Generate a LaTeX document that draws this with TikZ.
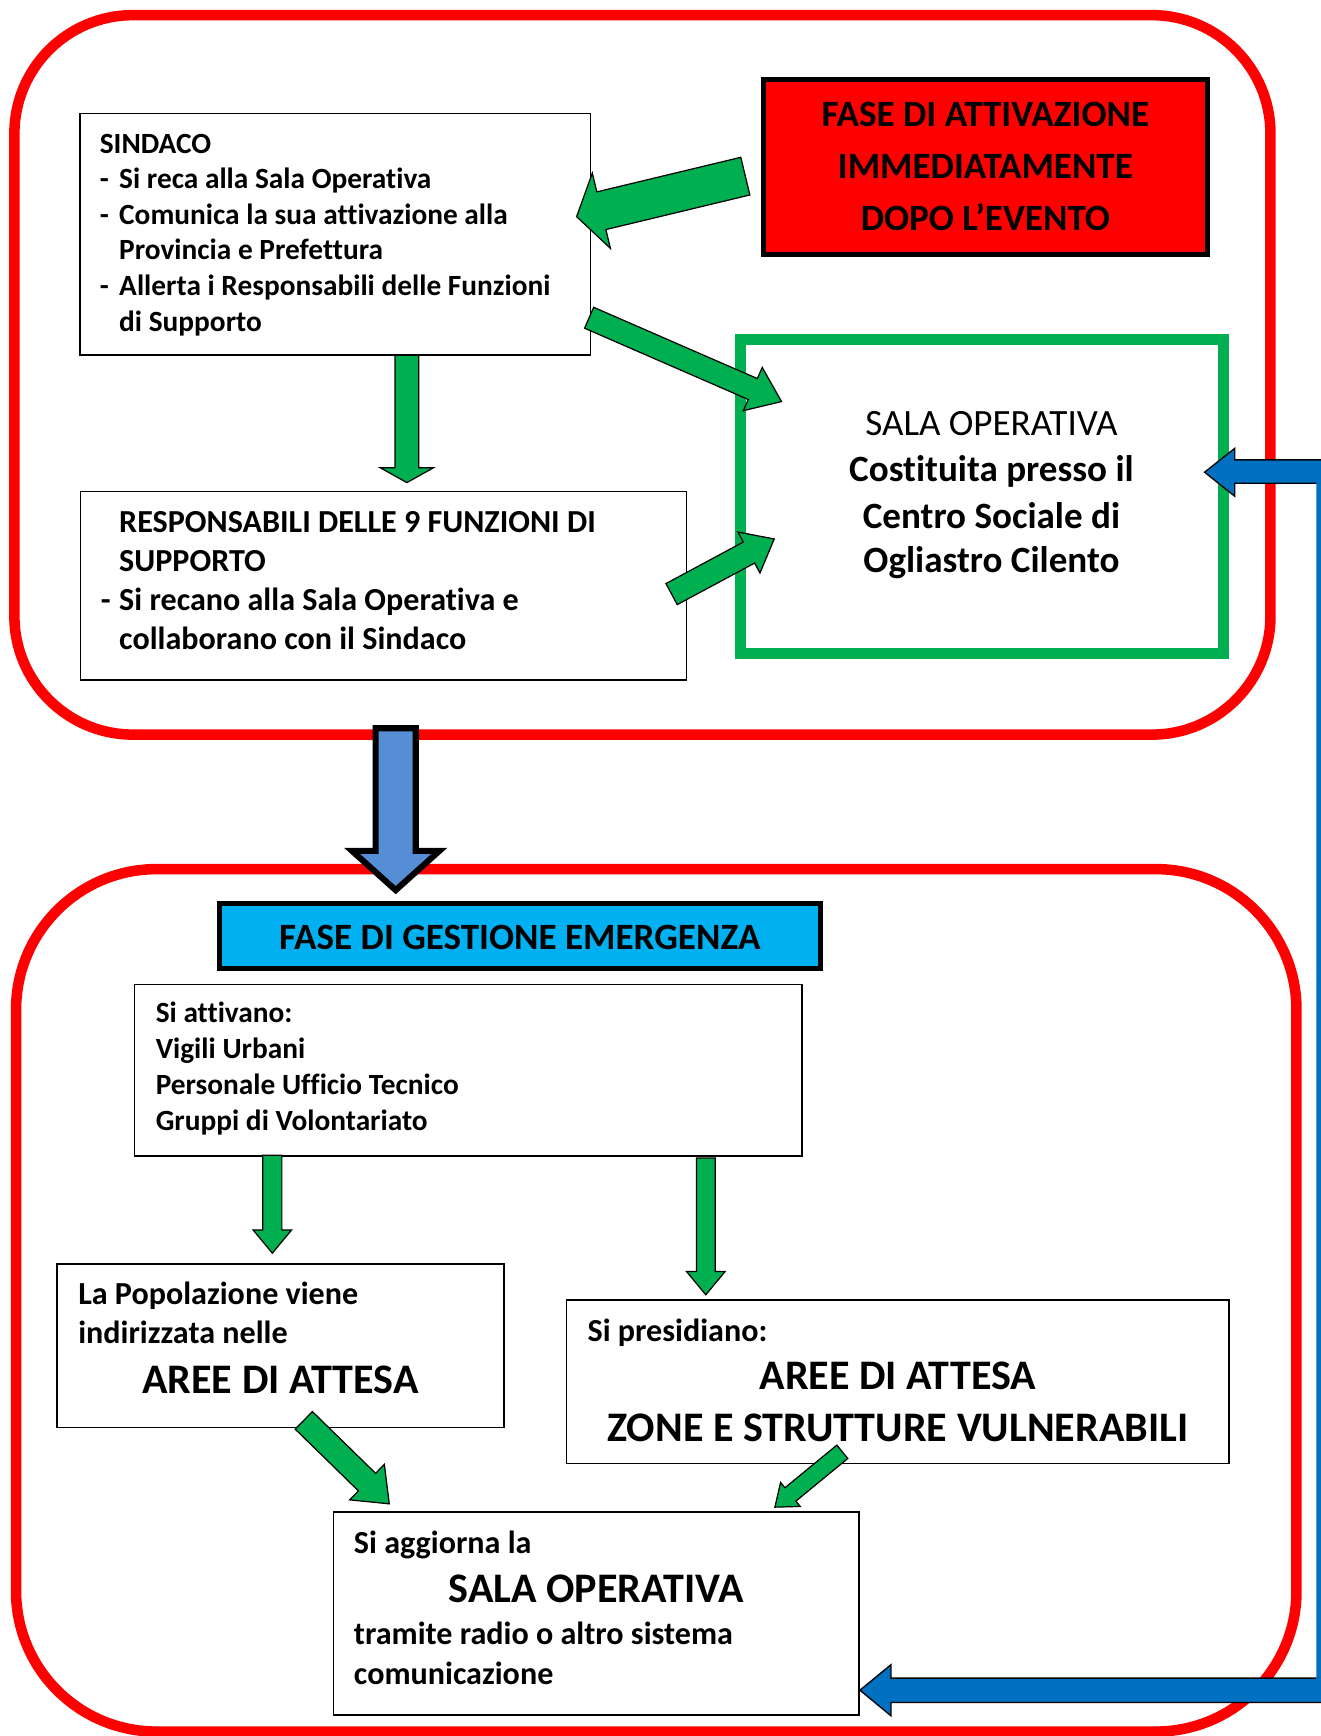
\documentclass[tikz,border=0pt]{standalone}
\usepackage{fontspec}
\setmainfont{Carlito}[Ligatures=CommonOff]
\usetikzlibrary{calc}
\definecolor{cred}{HTML}{FF0000}
\definecolor{cgreen}{HTML}{00B050}
\definecolor{ccyan}{HTML}{00B0F0}
\definecolor{cblue}{HTML}{0070C0}
\definecolor{cbluelight}{HTML}{558ED5}
% #1 options, #2 tail, #3 tip, #4 half shaft width, #5 half head width, #6 head length
\newcommand\blockarrow[6][]{%
  \coordinate (bahead) at ($(#3)!#6!(#2)$);
  \draw[garrow,#1] ($(#2)!#4!90:(#3)$) -- ($(bahead)!#4!90:(#3)$) -- ($(bahead)!#5!90:(#3)$) -- (#3)
    -- ($(bahead)!#5!-90:(#3)$) -- ($(bahead)!#4!-90:(#3)$) -- ($(#2)!#4!-90:(#3)$) -- cycle;}
\begin{document}
\begin{tikzpicture}[x=1pt,y=-1pt,
  frame/.style={draw=cred, line width=9.5pt, inner sep=0pt},
  box/.style={draw=black, line width=1.3pt, fill=white, inner sep=0pt},
  hbox/.style={draw=black, line width=4.5pt, inner sep=0pt},
  garrow/.style={fill=cgreen, draw=black, line width=1.1pt, line join=miter},
  sA/.style={inner sep=0pt, font=\fontsize{26.5}{30}\selectfont\bfseries},
  sB/.style={inner sep=0pt, font=\fontsize{29}{33}\selectfont\bfseries},
  sC/.style={inner sep=0pt, font=\fontsize{33.5}{38}\selectfont\bfseries},
  sCr/.style={inner sep=0pt, font=\fontsize{33.5}{38}\selectfont},
  sD/.style={inner sep=0pt, font=\fontsize{38}{44}\selectfont\bfseries},
]
\useasboundingbox (0,0) rectangle (1193,1568);
\clip (0,0) rectangle (1193,1568);

% phase frames
\node[frame, rounded corners=107pt, minimum width=1134.5pt, minimum height=649.8pt] (phase1) at (580.25,338.6) {};
\node[frame, rounded corners=127pt, minimum width=1156.5pt, minimum height=779pt] (phase2) at (592.75,1174.5) {};

% ---------- top phase ----------
\node[box, minimum width=461.3pt, minimum height=218.3pt] (sindaco) at (302.9,211.5) {};
\node[sA, anchor=base west] (sin1) at (90,138.5) {SINDACO};
\node[sA, anchor=base west] (sin2) at (90,170) {\makebox[17.5pt][l]{-}Si reca alla Sala Operativa};
\node[sA, anchor=base west] (sin3) at (90,202.4) {\makebox[17.5pt][l]{-}Comunica la sua attivazione alla};
\node[sA, anchor=base west] (sin4) at (107.5,234.8) {Provincia e Prefettura};
\node[sA, anchor=base west] (sin5) at (90,267.2) {\makebox[17.5pt][l]{-}Allerta i Responsabili delle Funzioni};
\node[sA, anchor=base west] (sin6) at (107.5,299.6) {di Supporto};

\node[hbox, fill=cred, minimum width=401.6pt, minimum height=158.8pt] (fase) at (890.2,150.8) {};
\node[sC, anchor=base] (fas1) at (890,114.1) {FASE DI ATTIVAZIONE};
\node[sC, anchor=base] (fas2) at (890,161.3) {IMMEDIATAMENTE};
\node[sC, anchor=base] (fas3) at (890,208.4) {DOPO L’EVENTO};

\node[draw=cgreen, line width=10pt, fill=white, inner sep=0pt, minimum width=436.5pt, minimum height=283.4pt] (sala) at (887.25,448.3) {};
\node[sCr, anchor=base] (sal1) at (895.5,393) {SALA OPERATIVA};
\node[sC, anchor=base] (sal2) at (895.5,435.3) {Costituita presso il};
\node[sC, anchor=base] (sal3) at (895.5,476.9) {Centro Sociale di};
\node[sC, anchor=base] (sal4) at (895.5,517.3) {Ogliastro Cilento};

\node[box, minimum width=547.4pt, minimum height=170pt] (resp) at (346.3,529) {};
\node[sB, anchor=base west] (res1) at (107.5,481) {RESPONSABILI DELLE 9 FUNZIONI DI};
\node[sB, anchor=base west] (res2) at (107.5,516.3) {SUPPORTO};
\node[sB, anchor=base west] (res3) at (91,551.5) {\makebox[16.5pt][l]{-}Si recano alla Sala Operativa e};
\node[sB, anchor=base west] (res4) at (107.5,587) {collaborano con il Sindaco};

% green arrows (top phase)
\coordinate (g1t) at (673.2,159.1); \coordinate (g1h) at (520.8,195.7);
\blockarrow{g1t}{g1h}{17.5pt}{35pt}{23pt}
\coordinate (g2t) at (532.1,287); \coordinate (g2h) at (705.9,362.7);
\blockarrow{g2t}{g2h}{10.3pt}{21.3pt}{28.3pt}
\coordinate (g3t) at (606.6,536.6); \coordinate (g3h) at (699.3,486.8);
\blockarrow{g3t}{g3h}{10.8pt}{21pt}{25.9pt}
\coordinate (g4t) at ($(sindaco.south)+(64.6,-0.5)$); \coordinate (g4h) at (367.5,435.9);
\blockarrow{g4t}{g4h}{10.7pt}{24.2pt}{13.5pt}

% big phase arrow
\coordinate (bt) at (357.4,657.8); \coordinate (bh) at (357.4,804);
\blockarrow[fill=cbluelight, line width=5.5pt]{bt}{bh}{18.1pt}{39.5pt}{35.5pt}

% ---------- bottom phase ----------
\node[hbox, fill=ccyan, minimum width=542.4pt, minimum height=58.9pt] (gest) at (469.5,845.75) {};
\node[sC, anchor=base] (ges1) at (469.5,858) {FASE DI GESTIONE EMERGENZA};

\node[box, minimum width=603pt, minimum height=155pt] (attiv) at (422.9,966.5) {};
\node[sA, anchor=base west] (att1) at (140.5,923.6) {Si attivano:};
\node[sA, anchor=base west] (att2) at (140.5,955.8) {Vigili Urbani};
\node[sA, anchor=base west] (att3) at (140.5,988.9) {Personale Ufficio Tecnico};
\node[sA, anchor=base west] (att4) at (140.5,1021.1) {Gruppi di Volontariato};

\node[box, minimum width=403.8pt, minimum height=147.6pt] (pop) at (253.3,1215.6) {};
\node[sB, anchor=base west] (pop1) at (70.5,1178.5) {La Popolazione viene};
\node[sB, anchor=base west] (pop2) at (70.5,1213.5) {indirizzata nelle};
\node[sD, anchor=base] (pop3) at (253.3,1259) {AREE DI ATTESA};

\node[box, minimum width=598.5pt, minimum height=148pt] (pres) at (810.8,1248) {};
\node[sB, anchor=base west] (pre1) at (530.5,1211.3) {Si presidiano:};
\node[sD, anchor=base] (pre2) at (811,1255.2) {AREE DI ATTESA};
\node[sD, anchor=base] (pre3) at (811,1301.8) {ZONE E STRUTTURE VULNERABILI};

\node[box, minimum width=475pt, minimum height=183.2pt] (agg) at (538.5,1457.4) {};
\node[sB, anchor=base west] (agg1) at (319.5,1403) {Si aggiorna la};
\node[sD, anchor=base] (agg2) at (538.5,1447) {SALA OPERATIVA};
\node[sB, anchor=base west] (agg3) at (319.5,1485.7) {tramite radio o altro sistema};
\node[sB, anchor=base west] (agg4) at (319.5,1521.2) {comunicazione};

% green arrows (bottom phase)
\coordinate (g5t) at (246,1043.5); \coordinate (g5h) at (246,1131.9);
\blockarrow{g5t}{g5h}{8.6pt}{17.4pt}{21pt}
\coordinate (g6t) at (637.5,1046); \coordinate (g6h) at (637.5,1169.5);
\blockarrow{g6t}{g6h}{8.5pt}{17.4pt}{21pt}
\coordinate (g7t) at (274.4,1282.9); \coordinate (g7h) at (351.6,1358.3);
\blockarrow{g7t}{g7h}{11.1pt}{22.4pt}{28.1pt}
\coordinate (g8t) at (760.8,1311.3); \coordinate (g8h) at (699.9,1361.3);
\blockarrow{g8t}{g8h}{7.8pt}{14pt}{18.1pt}

% blue feedback connector: agg -> sala
\coordinate (ft) at (1088,426.5);
\coordinate (fb) at (776.7,1526.6);
\fill[cblue] (1200,415.4) -- (1115.3,415.4) -- (1115.3,404.9) -- (ft) -- (1115.3,448.3) -- (1115.3,436.5)
  -- (1189,436.5) -- (1189,1515.7) -- (804.7,1515.7) -- (804.7,1503.6) -- (fb) -- (804.7,1549.7)
  -- (804.7,1537.7) -- (1200,1537.7) -- cycle;
\draw[black, line width=1.2pt, line join=miter] (1193,415.4) -- (1115.3,415.4) -- (1115.3,404.9) -- (ft)
  -- (1115.3,448.3) -- (1115.3,436.5) -- (1189,436.5);
\draw[black, line width=1.2pt, line join=miter] (1189,1515.7) -- (804.7,1515.7) -- (804.7,1503.6) -- (fb)
  -- (804.7,1549.7) -- (804.7,1537.7) -- (1193,1537.7);
\end{tikzpicture}
\end{document}
